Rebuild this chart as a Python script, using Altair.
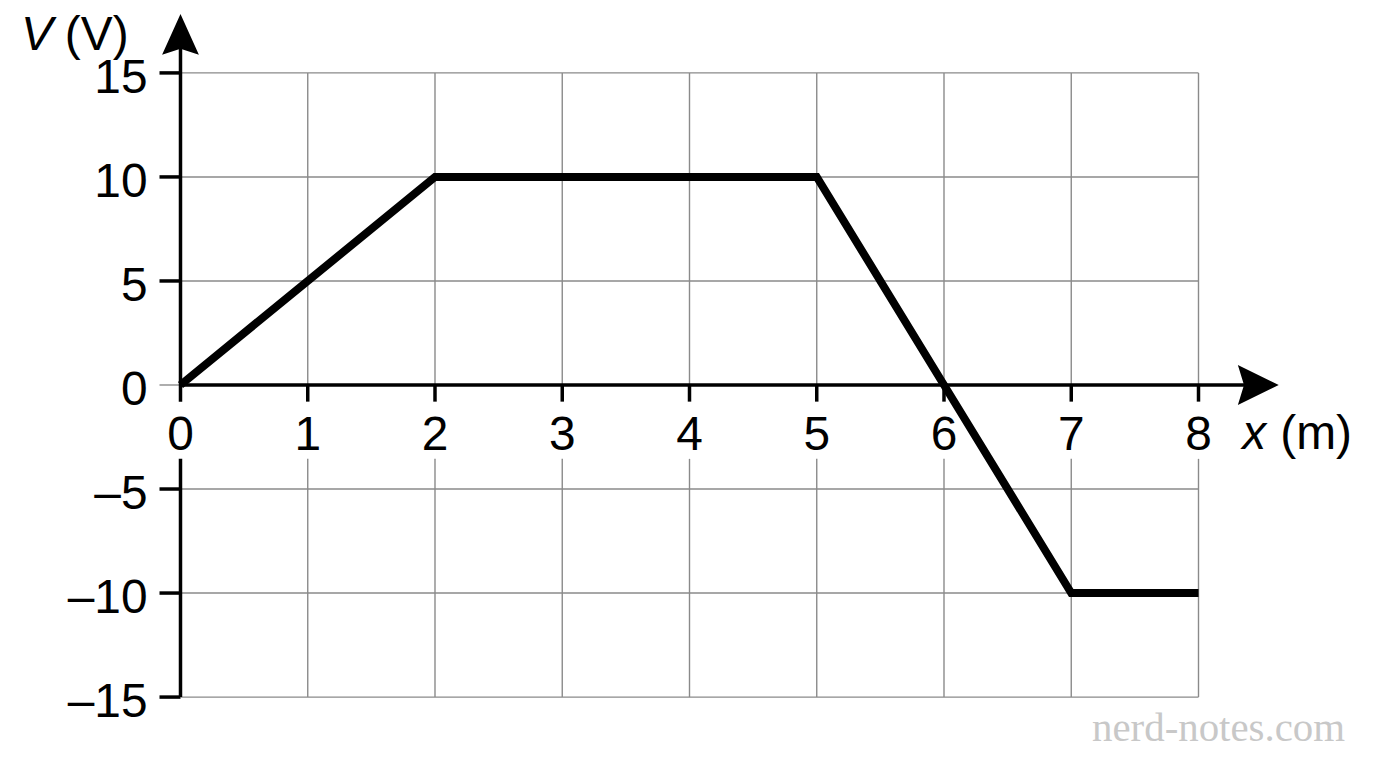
import altair as alt
import pandas as pd

# ---- data ----
x_pts = [0, 2, 5, 6, 7, 8]
v_pts = [0, 10, 10, 0, -10, -10]

x_tick_vals = [0, 1, 2, 3, 4, 5, 6, 7, 8]
x_tick_labels = ["0", "1", "2", "3", "4", "5", "6", "7", "8"]
y_tick_vals = [-15, -10, -5, 0, 5, 10, 15]
y_tick_labels = ["–15", "–10", "–5", "0", "5", "10", "15"]

X_MIN, X_MAX = 0, 8
Y_MIN, Y_MAX = -15, 15
LABEL_GAP_TOP = -0.8     # where gridlines stop above the x tick labels
LABEL_GAP_BOTTOM = -3.55 # where gridlines resume below the x tick labels
Y_ARROW = 16.85
X_ARROW = 8.47

xs = alt.Scale(domain=[X_MIN, X_MAX], nice=False, zero=False)
ys = alt.Scale(domain=[Y_MIN, Y_MAX], nice=False, zero=False)

GRID = "#8a8a8a"
FONT = "Liberation Sans"
AXW = 3.5

def X(f):
    return alt.X(f, type="quantitative", scale=xs, axis=None)

def Y(f):
    return alt.Y(f, type="quantitative", scale=ys, axis=None)

# horizontal gridlines
hgrid_df = pd.DataFrame({"y": [v for v in y_tick_vals if v != 0], "x": X_MIN, "x2": X_MAX})
hgrid = alt.Chart(hgrid_df).mark_rule(color=GRID, strokeWidth=1.4).encode(
    x=X("x"), x2="x2", y=Y("y"))

# vertical gridlines (upper and lower parts)
vx = [v for v in x_tick_vals if v != 0]
vup_df = pd.DataFrame({"x": vx, "y": 0, "y2": Y_MAX})
vup = alt.Chart(vup_df).mark_rule(color=GRID, strokeWidth=1.4).encode(
    x=X("x"), y=Y("y"), y2="y2")
vlo_df = pd.DataFrame({"x": vx, "y": Y_MIN, "y2": LABEL_GAP_BOTTOM})
vlo = alt.Chart(vlo_df).mark_rule(color=GRID, strokeWidth=1.4).encode(
    x=X("x"), y=Y("y"), y2="y2")

# x ticks
xt_df = pd.DataFrame({"x": vx, "y": 0, "y2": LABEL_GAP_TOP})
xticks = alt.Chart(xt_df).mark_rule(color="black", strokeWidth=AXW).encode(
    x=X("x"), y=Y("y"), y2="y2")

# y ticks
yt_df = pd.DataFrame({"y": [v for v in y_tick_vals if v != 0], "x": -0.165, "x2": 0})
yticks = alt.Chart(yt_df).mark_rule(color="black", strokeWidth=AXW).encode(
    x=X("x"), x2="x2", y=Y("y"))
yt0_df = pd.DataFrame({"y": [0], "x": -0.165, "x2": 0})
ytick0 = alt.Chart(yt0_df).mark_rule(color=GRID, strokeWidth=1.4).encode(
    x=X("x"), x2="x2", y=Y("y"))

# axis lines
yaxis_df = pd.DataFrame({"x": [0, 0], "y": [Y_MIN, LABEL_GAP_TOP], "y2": [LABEL_GAP_BOTTOM, Y_ARROW - 0.5]})
yaxis = alt.Chart(yaxis_df).mark_rule(color="black", strokeWidth=AXW).encode(
    x=X("x"), y=Y("y"), y2="y2")
xaxis_df = pd.DataFrame({"y": [0], "x": [X_MIN], "x2": [X_ARROW - 0.1]})
xaxis = alt.Chart(xaxis_df).mark_rule(color="black", strokeWidth=AXW).encode(
    x=X("x"), x2="x2", y=Y("y"))

# arrowheads
yarrow_df = pd.DataFrame({"x": [0], "y": [Y_ARROW]})
yarrow = alt.Chart(yarrow_df).mark_point(
    shape="M0,-1 L0.9,1 L0,0.7 L-0.9,1 Z", size=1681, filled=True,
    fill="black", strokeWidth=0, opacity=1).encode(x=X("x"), y=Y("y"))
xarrow_df = pd.DataFrame({"x": [X_ARROW], "y": [0]})
xarrow = alt.Chart(xarrow_df).mark_point(
    shape="M1,0 L-1,0.98 L-0.7,0 L-1,-0.98 Z", size=1681, filled=True,
    fill="black", strokeWidth=0, opacity=1).encode(x=X("x"), y=Y("y"))

# data line
line_df = pd.DataFrame({"x": x_pts, "v": v_pts, "o": list(range(len(x_pts)))})
line = alt.Chart(line_df).mark_line(color="black", strokeWidth=8, strokeJoin="miter",
                                    strokeCap="butt").encode(
    x=X("x"), y=Y("v"), order="o:Q")

# tick labels
xl_df = pd.DataFrame({"x": x_tick_vals, "t": x_tick_labels, "y": 0})
xlabels = alt.Chart(xl_df).mark_text(font=FONT, fontSize=48, align="center",
                                     baseline="alphabetic", dy=65, color="black").encode(
    x=X("x"), y=Y("y"), text="t:N")
yl_df = pd.DataFrame({"y": y_tick_vals, "t": y_tick_labels, "x": 0})
ylabels = alt.Chart(yl_df).mark_text(font=FONT, fontSize=48, align="right",
                                     baseline="alphabetic", dx=-33, dy=20, color="black").encode(
    x=X("x"), y=Y("y"), text="t:N")

# axis titles
vt_df = pd.DataFrame({"x": [0], "y": [Y_MAX], "a": ["V"], "b": ["(V)"]})
vtitle_a = alt.Chart(vt_df).mark_text(font=FONT, fontSize=48, fontStyle="italic", align="left",
                                      baseline="alphabetic", dx=-160, dy=-23, color="black").encode(
    x=X("x"), y=Y("y"), text="a:N")
vtitle_b = alt.Chart(vt_df).mark_text(font=FONT, fontSize=48, align="left",
                                      baseline="alphabetic", dx=-116, dy=-23, color="black").encode(
    x=X("x"), y=Y("y"), text="b:N")
xt2_df = pd.DataFrame({"x": [X_MAX], "y": [0], "a": ["x"], "b": ["(m)"]})
xtitle_a = alt.Chart(xt2_df).mark_text(font=FONT, fontSize=48, fontStyle="italic", align="left",
                                       baseline="alphabetic", dx=44, dy=64, color="black").encode(
    x=X("x"), y=Y("y"), text="a:N")
xtitle_b = alt.Chart(xt2_df).mark_text(font=FONT, fontSize=48, align="left",
                                       baseline="alphabetic", dx=82, dy=64, color="black").encode(
    x=X("x"), y=Y("y"), text="b:N")

# watermark
wm_df = pd.DataFrame({"x": [X_MAX], "y": [Y_MIN], "t": ["nerd-notes.com"]})
wm = alt.Chart(wm_df).mark_text(font="Liberation Serif", fontSize=41, align="right",
                                baseline="alphabetic", dx=147, dy=44, color="#c8c8c8").encode(
    x=X("x"), y=Y("y"), text="t:N")

chart = alt.layer(
    hgrid, vup, vlo, ytick0, xticks, yticks, yaxis, xaxis, yarrow, xarrow, line,
    xlabels, ylabels, vtitle_a, vtitle_b, xtitle_a, xtitle_b, wm
).properties(
    width=1021, height=626,
    autosize=alt.AutoSizeParams(type="none"),
    padding={"left": 173, "top": 64, "right": 170, "bottom": 60},
).configure_view(stroke=None)

chart.save("out.html", embed_options={"renderer": "svg", "actions": False})
